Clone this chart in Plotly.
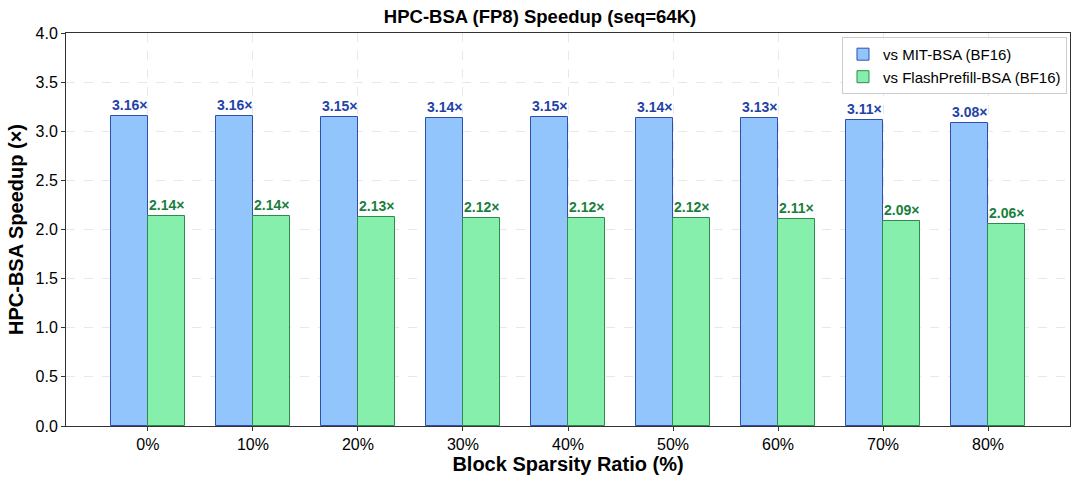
import plotly.graph_objects as go

categories = ["0%", "10%", "20%", "30%", "40%", "50%", "60%", "70%", "80%"]
mit_bsa = [3.16, 3.16, 3.15, 3.14, 3.15, 3.14, 3.13, 3.11, 3.08]
flash_bsa = [2.14, 2.14, 2.13, 2.12, 2.12, 2.12, 2.11, 2.09, 2.06]
y_ticks = [0.0, 0.5, 1.0, 1.5, 2.0, 2.5, 3.0, 3.5, 4.0]

FONT = "Liberation Sans, Arial, sans-serif"
W = 0.35
xs = list(range(len(categories)))

fig = go.Figure()
fig.add_trace(go.Bar(
    x=xs, y=mit_bsa, width=W, offset=-W, name="vs MIT-BSA (BF16)",
    marker=dict(color="#93C5FD", line=dict(color="#2F4FB0", width=1)),
))
fig.add_trace(go.Bar(
    x=xs, y=flash_bsa, width=W, offset=0, name="vs FlashPrefill-BSA (BF16)",
    marker=dict(color="#86EFAC", line=dict(color="#2E8B4E", width=1)),
))

for i, (a, b) in enumerate(zip(mit_bsa, flash_bsa)):
    fig.add_annotation(x=i - W / 2, y=a, text=f"<b>{a:.2f}×</b>", showarrow=False,
                       yanchor="bottom", yshift=1, font=dict(size=14, color="#2342A8", family=FONT))
    fig.add_annotation(x=i + W / 2, y=b, text=f"<b>{b:.2f}×</b>", showarrow=False,
                       yanchor="bottom", yshift=1, font=dict(size=14, color="#1A7F3C", family=FONT))

fig.update_layout(
    width=1080, height=484,
    margin=dict(l=66, r=10, t=33, b=58),
    plot_bgcolor="white", paper_bgcolor="white",
    font=dict(family=FONT, size=16, color="black"),
    title=dict(text="<b>HPC-BSA (FP8) Speedup (seq=64K)</b>", x=0.5, xanchor="center",
               y=1 - 17 / 484, yanchor="middle", font=dict(size=18.5, color="black")),
    bargap=0,
    showlegend=True,
    legend=dict(x=0.997, y=0.99, xanchor="right", yanchor="top",
                bgcolor="rgba(255,255,255,0.9)", bordercolor="#CCCCCC", borderwidth=1,
                font=dict(size=15), tracegroupgap=2),
)
fig.update_xaxes(
    range=[-0.78, 8.78], tickvals=xs, ticktext=categories,
    showline=True, linecolor="#333333", linewidth=1, mirror=True,
    ticks="outside", ticklen=4, tickcolor="#333333",
    showgrid=True, gridcolor="#E8E8E8", griddash="dash", gridwidth=1,
    title=dict(text="<b>Block Sparsity Ratio (%)</b>", font=dict(size=20), standoff=4),
    tickfont=dict(size=16), zeroline=False,
)
fig.update_yaxes(
    range=[0, 4.0], tickvals=y_ticks, ticktext=[f"{v:.1f}" for v in y_ticks],
    showline=True, linecolor="#333333", linewidth=1, mirror=True,
    ticks="outside", ticklen=4, tickcolor="#333333",
    showgrid=True, gridcolor="#E8E8E8", griddash="dash", gridwidth=1,
    title=dict(text="<b>HPC-BSA Speedup (×)</b>", font=dict(size=20), standoff=6),
    tickfont=dict(size=16), zeroline=False,
)

fig.write_html("out.html")
